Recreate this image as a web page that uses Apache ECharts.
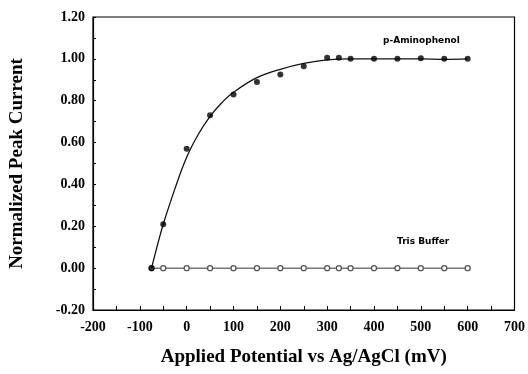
<!DOCTYPE html>
<html>
<head>
<meta charset="utf-8">
<script src="https://cdn.jsdelivr.net/npm/echarts@6/dist/echarts.min.js"></script>
<style>
  html, body { margin: 0; padding: 0; background: #fff; }
  #chart { width: 528px; height: 374px; }
</style>
</head>
<body>
<div id="chart"></div>
<script>
// measured points
const potentials = [-75, -50, 0, 50, 100, 150, 200, 250, 300, 325, 350, 400, 450, 500, 550, 600];
const aminophenol = [0, 0.21, 0.57, 0.73, 0.83, 0.89, 0.925, 0.965, 1.005, 1.005, 1.0, 1.0, 1.0, 1.003, 1.0, 1.0];
const trisBuffer = [0, 0, 0, 0, 0, 0, 0, 0, 0, 0, 0, 0, 0, 0, 0, 0];

// fitted curve through the p-aminophenol data
const fitX = [-75, -60, -50, -25, 0, 25, 50, 75, 100, 150, 200, 250, 300, 350, 400, 450, 500, 550, 600];
const fitY = [0, 0.13, 0.21, 0.38, 0.53, 0.64, 0.725, 0.79, 0.84, 0.91, 0.95, 0.978, 0.995, 1.0, 1.0, 1.0, 1.0, 0.998, 1.0];

const serif = '"Liberation Serif", "DejaVu Serif", serif';

const chart = echarts.init(document.getElementById('chart'));

chart.setOption({
  animation: false,
  backgroundColor: '#fff',
  grid: { left: 92, right: 13, top: 17, bottom: 64, show: true, borderColor: '#000', borderWidth: 1.2 },
  xAxis: {
    type: 'value', min: -200, max: 700, interval: 100,
    name: 'Applied Potential vs Ag/AgCl (mV)',
    nameLocation: 'middle', nameGap: 38,
    nameTextStyle: { fontFamily: serif, fontSize: 19, fontWeight: 'bold', color: '#000' },
    axisLine: { onZero: false, lineStyle: { color: '#000', width: 1.2 } },
    axisTick: { inside: true, length: 4, lineStyle: { color: '#000' } },
    minorTick: { show: true, splitNumber: 2, length: 4, lineStyle: { color: '#000' } },
    axisLabel: { fontFamily: serif, fontSize: 14, fontWeight: 'bold', color: '#000', margin: 10 },
    splitLine: { show: false }
  },
  yAxis: {
    type: 'value', min: -0.2, max: 1.2, interval: 0.2,
    name: 'Normalized Peak Current',
    nameLocation: 'middle', nameGap: 66,
    nameTextStyle: { fontFamily: serif, fontSize: 19, fontWeight: 'bold', color: '#000' },
    axisLine: { onZero: false, lineStyle: { color: '#000', width: 1.2 } },
    axisTick: { inside: true, length: 3, lineStyle: { color: '#000' } },
    minorTick: { show: true, splitNumber: 2, length: 3, lineStyle: { color: '#000' } },
    axisLabel: {
      fontFamily: serif, fontSize: 14, fontWeight: 'bold', color: '#000', margin: 8,
      formatter: v => v.toFixed(2)
    },
    splitLine: { show: false }
  },
  series: [
    {
      name: 'Tris Buffer',
      type: 'line',
      data: potentials.map((x, i) => [x, trisBuffer[i]]),
      symbol: 'circle', symbolSize: 5,
      itemStyle: { color: '#fff', borderColor: '#555', borderWidth: 1.3 },
      lineStyle: { color: '#777', width: 1.5 },
      z: 2
    },
    {
      name: 'fit',
      type: 'line',
      data: fitX.map((x, i) => [x, fitY[i]]),
      smooth: 0.4, symbol: 'none',
      lineStyle: { color: '#111', width: 1.3 },
      z: 3
    },
    {
      name: 'p-Aminophenol',
      type: 'scatter',
      data: potentials.map((x, i) => [x, aminophenol[i]]),
      symbol: 'circle', symbolSize: 6,
      itemStyle: { color: '#000' },
      z: 4
    }
  ],
  graphic: [
    {
      type: 'text', left: 383, top: 36,
      style: { text: 'p-Aminophenol', font: 'bold 9px "DejaVu Sans", sans-serif', fill: '#000' }
    },
    {
      type: 'text', left: 397, top: 237,
      style: { text: 'Tris Buffer', font: 'bold 9px "DejaVu Sans", sans-serif', fill: '#000' }
    }
  ]
});
</script>
</body>
</html>
